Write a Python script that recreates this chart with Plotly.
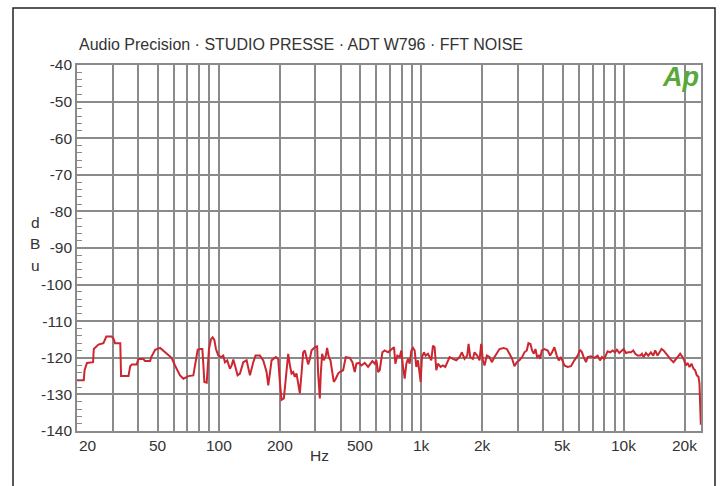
import math
import plotly.graph_objects as go

# FFT noise spectrum, level in dBu versus frequency in Hz
FREQ_HZ = [
    20.0, 21.6, 21.8, 22.4, 24.0, 24.2, 25.5, 27.0, 27.9, 29.7, 30.3, 30.8, 32.7, 33.0,
    35.9, 36.6, 37.3, 39.4, 40.2, 42.5, 43.3, 45.9, 46.5, 48.6, 51.4, 53.8, 56.5, 58.6,
    60.9, 64.5, 67.0, 68.3, 70.9, 75.0, 76.4, 78.8, 80.9, 83.1, 84.0, 85.0, 87.3, 88.3,
    89.6, 91.7, 93.4, 95.2, 97.0, 99.6, 102.7, 105.4, 107.4, 110.3, 113.7, 115.9, 118.1,
    120.4, 124.0, 127.4, 132.3, 137.4, 142.7, 148.2, 152.1, 159.8, 166.0, 172.4, 175.7,
    179.0, 182.4, 191.6, 196.7, 200.5, 204.4, 209.8, 214.6, 220.4, 224.6, 228.9, 233.3,
    237.7, 242.2, 246.9, 251.6, 256.4, 261.3, 266.2, 271.3, 276.5, 281.8, 287.2, 298.2,
    306.2, 309.7, 315.6, 319.2, 324.1, 330.3, 337.9, 343.0, 349.6, 356.2, 363.0, 370.0,
    378.4, 388.6, 396.0, 411.3, 424.0, 443.6, 457.1, 469.5, 478.4, 493.2, 506.3, 526.0,
    546.3, 561.0, 573.8, 589.2, 600.4, 611.9, 623.5, 642.7, 659.9, 685.3, 711.6, 733.6,
    744.8, 761.9, 782.4, 797.3, 812.5, 828.0, 843.8, 859.9, 876.2, 892.9, 909.9, 927.3,
    944.9, 963.0, 981.3, 992.5, 1007.6, 1030.6, 1050.3, 1078.5, 1099.1, 1120.1, 1141.5,
    1163.3, 1185.6, 1208.2, 1245.3, 1278.7, 1312.9, 1343.1, 1379.0, 1432.2, 1487.3,
    1544.5, 1585.9, 1634.6, 1685.0, 1710.8, 1743.4, 1796.9, 1831.1, 1887.6, 1937.8,
    1975.1, 2012.8, 2051.2, 2106.2, 2170.7, 2228.9, 2297.2, 2368.1, 2431.6, 2544.4,
    2642.4, 2723.3, 2807.3, 2882.6, 2960.0, 3050.7, 3144.3, 3228.4, 3315.0, 3378.2,
    3455.9, 3521.8, 3589.1, 3657.5, 3727.2, 3798.3, 3856.4, 3929.9, 4051.3, 4207.2,
    4320.1, 4418.7, 4537.3, 4659.1, 4766.5, 4894.4, 5082.7, 5278.3, 5481.4, 5692.3,
    5912.2, 6070.8, 6209.4, 6327.8, 6497.6, 6621.4, 6876.2, 7142.2, 7416.5, 7615.7,
    7789.5, 7998.7, 8152, 8307, 8562, 8792, 9028, 9237, 9484, 9739, 9963, 10230, 10505,
    10827, 11118, 11372, 11677, 12036, 12265, 12500, 12835, 13180, 13583, 13947, 14267,
    14649, 14985, 15328, 15680, 16100, 16532, 17038, 17562, 18102, 18519, 18943, 19452,
    19823, 20201, 20587, 21060, 21542, 22036, 22457, 22885, 23321, 23587, 23767, 23948,
]
LEVEL_DBU = [
    -126.1, -126.1, -123.4, -121.4, -121.2, -117.6, -116.4, -116.0, -114.2, -114.2, -114.8,
    -116.0, -116.0, -125.0, -125.0, -122.3, -121.8, -121.8, -120.3, -120.3, -120.9, -120.9,
    -119.8, -117.8, -117.3, -118.2, -119.4, -120.0, -122.1, -124.8, -125.7, -125.4, -125.0,
    -124.8, -122.5, -117.8, -117.6, -117.6, -121.6, -126.6, -126.8, -121.6, -117.6, -114.9,
    -114.4, -115.1, -117.6, -119.4, -119.8, -119.4, -121.2, -120.7, -123.0, -122.1, -120.5,
    -122.1, -124.8, -124.3, -121.2, -120.7, -124.8, -121.2, -119.4, -119.4, -120.7, -123.9,
    -127.5, -124.3, -120.7, -119.8, -120.3, -126.6, -131.5, -131.1, -125.2, -118.9, -122.0,
    -124.3, -123.9, -125.2, -124.3, -127.5, -129.7, -124.3, -118.5, -118.0, -119.8, -121.8,
    -120.3, -118.0, -117.1, -116.9, -124.3, -131.1, -124.3, -118.9, -120.7, -119.4, -117.3,
    -119.8, -120.7, -123.4, -126.6, -125.7, -124.3, -123.9, -123.4, -119.8, -120.0, -121.2,
    -123.9, -121.6, -121.4, -122.1, -121.4, -122.5, -121.6, -120.9, -121.6, -120.7, -123.9,
    -123.4, -118.5, -118.0, -118.5, -117.6, -117.1, -121.6, -119.4, -119.8, -118.0, -122.5,
    -125.7, -121.6, -120.3, -121.6, -118.0, -117.3, -118.0, -122.5, -120.7, -124.3, -126.6,
    -119.8, -118.5, -119.4, -118.9, -119.8, -120.7, -116.7, -117.1, -123.4, -121.6, -122.5,
    -122.1, -122.5, -121.2, -119.8, -120.3, -120.7, -119.8, -118.5, -120.3, -119.4, -116.2,
    -119.8, -120.3, -118.5, -119.4, -120.7, -116.2, -120.7, -122.1, -119.4, -119.8, -121.2,
    -119.8, -118.5, -117.6, -117.3, -117.6, -118.9, -120.3, -122.3, -121.2, -120.7, -119.8,
    -118.5, -118.0, -116.0, -116.2, -118.0, -118.9, -117.6, -119.8, -119.4, -120.3, -118.0,
    -117.6, -118.0, -119.4, -118.5, -117.1, -119.4, -120.7, -119.8, -122.1, -122.5, -122.3,
    -120.7, -119.4, -117.8, -118.5, -119.8, -121.2, -119.8, -119.6, -120.0, -119.4, -120.7,
    -119.8, -120.3, -119.4, -118.2, -118.5, -118.0, -118.5, -117.8, -118.7, -118.0, -117.6,
    -118.7, -118.5, -118.5, -118.0, -118.9, -119.4, -119.4, -118.9, -119.8, -118.7, -119.4,
    -118.5, -119.4, -118.0, -119.4, -118.5, -117.6, -118.0, -118.9, -119.8, -120.5, -121.2,
    -120.3, -119.4, -118.9, -119.8, -120.7, -122.1, -121.4, -122.5, -121.6, -123.0, -123.4,
    -124.8, -125.2, -127.0, -132.4, -138.3,
]

# Axis scales, grid and labels
FREQ_MIN, FREQ_MAX = 20, 24000
DB_MIN, DB_MAX = -140, -40
GRID_FREQS = [20, 30, 40, 50, 60, 70, 80, 90,
              100, 200, 300, 400, 500, 600, 700, 800, 900,
              1000, 2000, 3000, 4000, 5000, 6000, 7000, 8000, 9000,
              10000, 20000]
XTICK_VALS = [20, 50, 100, 200, 500, 1000, 2000, 5000, 10000, 20000]
XTICK_TEXT = ["20", "50", "100", "200", "500", "1k", "2k", "5k", "10k", "20k"]
YTICK_VALS = [-40, -50, -60, -70, -80, -90, -100, -110, -120, -130, -140]
YTICK_TEXT = ["-40", "-50", "-60", "-70", "-80", "-90", "-100", "-110", "-120", "-130", "-140"]

TITLE = "Audio Precision · STUDIO PRESSE · ADT W796 · FFT NOISE"
X_TITLE = "Hz"
Y_TITLE = ["d", "B", "u"]

GRID = "#8a8a8a"
TEXT = "#333333"
TRACE = "#cc2730"
FONT = "Liberation Sans, Arial, sans-serif"
LABEL_SIZE = 15.5

W, H = 724, 486
ML, MR, MT, MB = 77, 23, 65, 55
PW, PH = W - ML - MR, H - MT - MB


def px_x(p):
    return (p - ML) / PW


def px_y(p):
    return (H - MB - p) / PH


fig = go.Figure()
fig.add_trace(go.Scatter(
    x=FREQ_HZ, y=LEVEL_DBU, mode="lines",
    line=dict(color=TRACE, width=2),
    hoverinfo="skip", showlegend=False,
))

annotations = [
    dict(text=TITLE, x=px_x(77), y=px_y(45), xref="paper", yref="paper",
         xanchor="left", yanchor="middle", showarrow=False,
         font=dict(size=16, color=TEXT, family=FONT)),
    dict(text=X_TITLE, x=px_x(319), y=px_y(455), xref="paper", yref="paper",
         xanchor="center", yanchor="middle", showarrow=False,
         font=dict(size=LABEL_SIZE, color=TEXT, family=FONT)),
    dict(text="<b><i>Ap</i></b>", x=1.0, y=px_y(77), xref="paper", yref="paper",
         xanchor="right", yanchor="middle", showarrow=False,
         font=dict(size=27, color="#5aa83a", family=FONT)),
]
for i, ch in enumerate(Y_TITLE):
    annotations.append(dict(
        text=ch, x=px_x(35), y=px_y(222 + 21.5 * i), xref="paper", yref="paper",
        xanchor="center", yanchor="middle", showarrow=False,
        font=dict(size=LABEL_SIZE, color=TEXT, family=FONT)))
for i, (v, t) in enumerate(zip(XTICK_VALS, XTICK_TEXT)):
    annotations.append(dict(
        text=t, x=math.log10(v), y=px_y(445), xref="x", yref="paper",
        xanchor="left" if i == 0 else "center", yanchor="middle", showarrow=False,
        font=dict(size=LABEL_SIZE, color=TEXT, family=FONT)))

fig.update_layout(
    width=W, height=H,
    margin=dict(l=ML, r=MR, t=MT, b=MB, pad=0),
    paper_bgcolor="white", plot_bgcolor="white",
    font=dict(family=FONT, size=LABEL_SIZE, color=TEXT),
    showlegend=False,
    annotations=annotations,
    shapes=[dict(type="rect", xref="paper", yref="paper",
                 x0=px_x(13), x1=px_x(715), y0=px_y(495), y1=px_y(8),
                 line=dict(color="#222222", width=1.5), layer="below")],
    xaxis=dict(
        type="log", range=[math.log10(FREQ_MIN), math.log10(FREQ_MAX)],
        tickmode="array", tickvals=GRID_FREQS, ticktext=[""] * len(GRID_FREQS),
        showgrid=True, gridcolor=GRID, gridwidth=1.6,
        showline=True, linecolor=GRID, linewidth=1.6, mirror=True,
        ticks="", zeroline=False,
    ),
    yaxis=dict(
        range=[DB_MIN, DB_MAX],
        tickmode="array", tickvals=YTICK_VALS, ticktext=YTICK_TEXT,
        showgrid=True, gridcolor=GRID, gridwidth=1.6,
        showline=True, linecolor=GRID, linewidth=1.6, mirror=True,
        ticks="inside", ticklen=5, tickcolor=GRID, tickwidth=1.2,
        minor=dict(tickmode="linear", tick0=DB_MIN, dtick=2, ticks="inside",
                   ticklen=5, tickcolor=GRID, tickwidth=1.2, showgrid=False),
        tickfont=dict(size=LABEL_SIZE, color=TEXT, family=FONT),
        ticklabelstandoff=0, zeroline=False,
    ),
)

fig.write_html("out.html")
